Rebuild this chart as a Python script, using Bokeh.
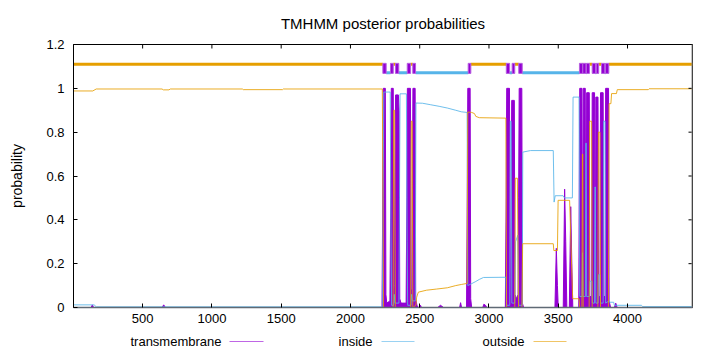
from bokeh.plotting import figure
from bokeh.models import Range1d, FixedTicker, Span
from bokeh.layouts import column
from bokeh.embed import file_html
from bokeh.resources import INLINE
from bokeh.core.properties import value

FONT = "Liberation Sans"
PURPLE = "#9400D3"
BLUE = "#56B4E9"
ORANGE = "#E69F00"

# ---------------- data ----------------
seq_len = 4469
x_ticks = [500, 1000, 1500, 2000, 2500, 3000, 3500, 4000]
y_ticks = [0, 0.2, 0.4, 0.6, 0.8, 1.0, 1.2]
y_tick_labels = ["0", "0.2", "0.4", "0.6", "0.8", "1", "1.2"]
series_names = ["transmembrane", "inside", "outside"]

# predicted transmembrane helices (top band)
tm_start = [2234, 2289, 2325, 2410, 2450, 2850, 3125, 3167, 3215, 3653, 3677, 3703, 3745, 3774, 3812, 3841]
tm_end = [2258, 2309, 2349, 2434, 2470, 2869, 3149, 3186, 3240, 3675, 3700, 3725, 3769, 3792, 3836, 3865]

# posterior probability profiles (residue, probability)
tm_profile = [
    (1, 0), (128, 0), (137, 0.012), (146, 0),
    (640, 0), (652, 0.012), (664, 0),
    (2228, 0), (2233, 0.5), (2237, 1.0), (2252, 1.0), (2256, 0.06), (2262, 0.02), (2285, 0.03),
    (2291, 0.5), (2295, 1.0), (2309, 1.0), (2313, 0.08), (2317, 0.1), (2321, 0.6), (2326, 0.97),
    (2346, 0.97), (2351, 0.9), (2356, 0.04), (2365, 0.02), (2402, 0.02), (2407, 0.5), (2411, 1.0),
    (2433, 1.0), (2438, 0.08), (2444, 0.08), (2447, 0.5), (2451, 1.0), (2467, 1.0), (2471, 0.04),
    (2480, 0.01), (2490, 0),
    (2500, 0), (2506, 0.01), (2512, 0),
    (2630, 0), (2650, 0.01), (2672, 0),
    (2788, 0), (2795, 0.022), (2802, 0),
    (2838, 0), (2843, 0.5), (2847, 1.0), (2864, 1.0), (2868, 0.04), (2875, 0),
    (2955, 0), (2963, 0.015), (2975, 0.01), (2985, 0),
    (3118, 0), (3124, 0.5), (3128, 1.0), (3148, 1.0), (3152, 0.06), (3156, 0.06), (3160, 0.5),
    (3164, 0.945), (3183, 0.945), (3187, 0.06), (3200, 0.04), (3210, 0.06), (3214, 0.5),
    (3218, 1.0), (3237, 1.0), (3241, 0.02), (3250, 0),
    (3476, 0), (3486, 0.27), (3494, 0.1), (3500, 0),
    (3536, 0), (3546, 0.54), (3554, 0.3), (3562, 0),
    (3580, 0), (3590, 0.46), (3598, 0.2), (3605, 0),
    (3648, 0), (3652, 0.6), (3655, 1.0), (3671, 1.0), (3674, 0.05), (3677, 0.05), (3680, 1.0),
    (3695, 1.0), (3698, 0.05), (3702, 0.05), (3705, 0.98), (3724, 0.98), (3728, 0.05),
    (3741, 0.05), (3745, 0.98), (3762, 0.98), (3765, 0.05), (3768, 0.05), (3771, 0.96),
    (3787, 0.96), (3791, 0.05), (3801, 0.05), (3805, 0.98), (3824, 0.98), (3828, 0.05),
    (3838, 0.05), (3842, 1.0), (3863, 1.0), (3867, 0.03), (3878, 0),
    (3905, 0), (3915, 0.02), (3925, 0), (4469, 0),
]

inside_profile = [
    (1, 0.012), (150, 0.012), (165, 0.003), (2230, 0.003), (2236, 0.5), (2241, 0.983),
    (2287, 0.983), (2292, 0.4), (2297, 0.01), (2312, 0.01), (2316, 0.06), (2321, 0.02),
    (2350, 0.02), (2354, 0.5), (2358, 0.975), (2404, 0.975), (2409, 0.3), (2413, 0.01),
    (2437, 0.01), (2441, 0.06), (2447, 0.03), (2468, 0.03), (2473, 0.933), (2520, 0.932),
    (2580, 0.925), (2640, 0.918), (2700, 0.91), (2760, 0.9), (2800, 0.893), (2842, 0.89),
    (2847, 0.1), (2872, 0.108), (2900, 0.117), (2930, 0.128), (2960, 0.137), (3122, 0.138),
    (3127, 0.01), (3150, 0.01), (3154, 0.85), (3160, 0.85), (3165, 0.02), (3186, 0.02),
    (3192, 0.3), (3208, 0.33), (3215, 0.01), (3240, 0.01), (3244, 0.709), (3300, 0.716),
    (3464, 0.716), (3470, 0.481), (3478, 0.51), (3535, 0.51), (3545, 0.5), (3602, 0.5),
    (3607, 0.96), (3650, 0.96), (3655, 0.05), (3672, 0.05), (3675, 0.25), (3678, 0.05),
    (3696, 0.05), (3699, 0.75), (3702, 0.75), (3705, 0.05), (3724, 0.05), (3728, 0.12),
    (3742, 0.12), (3746, 0.02), (3762, 0.02), (3765, 0.55), (3768, 0.55), (3771, 0.02),
    (3787, 0.02), (3791, 0.15), (3801, 0.15), (3805, 0.02), (3824, 0.02), (3828, 0.85),
    (3838, 0.85), (3842, 0.02), (3866, 0.03), (3870, 0.024), (3900, 0.024), (3905, 0.01),
    (4100, 0.01), (4110, 0.004), (4469, 0.004),
]

outside_profile = [
    (1, 0.988), (140, 0.988), (165, 0.997), (640, 0.997), (650, 0.993), (690, 0.993),
    (700, 0.997), (1220, 0.997), (1226, 0.994), (1510, 0.994), (1516, 0.997), (2230, 0.997),
    (2235, 0.5), (2239, 0.0), (2308, 0.0), (2312, 0.9), (2319, 0.9), (2324, 0.0), (2435, 0.0),
    (2439, 0.85), (2446, 0.85), (2450, 0.0), (2472, 0.01), (2478, 0.047), (2490, 0.07),
    (2550, 0.079), (2620, 0.084), (2700, 0.09), (2760, 0.1), (2800, 0.105), (2842, 0.11),
    (2847, 0.892), (2875, 0.89), (2895, 0.885), (2905, 0.872), (2930, 0.866), (3122, 0.864),
    (3127, 0.0), (3186, 0.0), (3190, 0.59), (3205, 0.59), (3213, 0.0), (3238, 0.0),
    (3243, 0.291), (3464, 0.291), (3468, 0.26), (3494, 0.26), (3499, 0.489), (3582, 0.489),
    (3604, 0.04), (3650, 0.04), (3655, 0.0), (3671, 0.0), (3674, 0.7), (3677, 0.7),
    (3680, 0.0), (3723, 0.0), (3727, 0.85), (3741, 0.85), (3745, 0.0), (3786, 0.0),
    (3790, 0.8), (3801, 0.8), (3805, 0.0), (3862, 0.0), (3867, 0.93), (3880, 0.93),
    (3885, 0.976), (3920, 0.976), (3926, 0.994), (4150, 0.994), (4156, 0.998), (4469, 0.998),
]

tm_x, tm_y = [list(t) for t in zip(*tm_profile)]
in_x, in_y = [list(t) for t in zip(*inside_profile)]
out_x, out_y = [list(t) for t in zip(*outside_profile)]

# ---------------- styling constants ----------------
OUT_LEVEL = 1.110
IN_LEVEL = 1.071
BOX_BOTTOM = 1.068
BOX_TOP = 1.114
TICK_PX = 4
FRAME_W = 619
FRAME_H = 263
Y_MAX = 1.2

# topology band regions between helices (alternating outside / inside)
bounds = [1] + [v for pair in zip(tm_start, tm_end) for v in pair] + [seq_len]
out_seg = ([], [])
in_seg = ([], [])
for k in range(len(tm_start) + 1):
    a, b = bounds[2 * k], bounds[2 * k + 1]
    target = out_seg if k % 2 == 0 else in_seg
    target[0].append(a)
    target[1].append(b)

p = figure(width=720, height=332, x_range=Range1d(1, seq_len), y_range=Range1d(0, Y_MAX),
           output_backend="svg", toolbar_location=None,
           min_border_left=73, min_border_right=28, min_border_top=44, min_border_bottom=25,
           background_fill_color="white", border_fill_color="white")
p.outline_line_color = "black"
p.outline_line_width = 1
p.grid.visible = False

p.title.text = "TMHMM posterior probabilities"
p.title.align = "center"
p.title.text_font = FONT
p.title.text_font_size = "15px"
p.title.text_font_style = "normal"
p.title.text_color = "black"
p.title.standoff = 25

# transmembrane as impulses (filled)
p.varea(x=tm_x, y1=[0] * len(tm_x), y2=tm_y, fill_color=PURPLE)
p.line(tm_x, tm_y, line_color=PURPLE, line_width=1)

# topology band
p.segment(x0=out_seg[0], y0=[OUT_LEVEL] * len(out_seg[0]), x1=out_seg[1],
          y1=[OUT_LEVEL] * len(out_seg[0]), line_color=ORANGE, line_width=3)
p.segment(x0=in_seg[0], y0=[IN_LEVEL] * len(in_seg[0]), x1=in_seg[1],
          y1=[IN_LEVEL] * len(in_seg[0]), line_color=BLUE, line_width=3)
p.quad(left=tm_start, right=tm_end, bottom=[BOX_BOTTOM] * len(tm_start),
       top=[BOX_TOP] * len(tm_start), fill_color=PURPLE, line_color="#b65ee0", line_width=1)

# inside / outside
p.line(in_x, in_y, line_color=BLUE, line_width=1, line_alpha=0.85)
p.line(out_x, out_y, line_color=ORANGE, line_width=1, line_alpha=0.85)

# mirrored ticks (inside the frame) on top and right borders
tick_dy = TICK_PX * Y_MAX / FRAME_H
tick_dx = TICK_PX * (seq_len - 1) / FRAME_W
p.segment(x0=x_ticks, y0=[Y_MAX] * len(x_ticks), x1=x_ticks,
          y1=[Y_MAX - tick_dy] * len(x_ticks), line_color="black", line_width=1)
p.segment(x0=[seq_len] * len(y_ticks), y0=y_ticks, x1=[seq_len - tick_dx] * len(y_ticks),
          y1=y_ticks, line_color="black", line_width=1)
p.add_layout(Span(location=seq_len, dimension="height", line_color="#8a8a8a", line_width=2))

# axes
for ax in (p.xaxis[0], p.yaxis[0]):
    ax.major_tick_in = TICK_PX
    ax.major_tick_out = 0
    ax.minor_tick_line_color = None
    ax.axis_line_color = "black"
    ax.major_tick_line_color = "black"
    ax.major_label_text_font = FONT
    ax.major_label_text_font_size = "13px"
    ax.major_label_text_color = "black"

p.xaxis.ticker = FixedTicker(ticks=x_ticks)
p.xaxis.major_label_standoff = 6
p.xaxis.axis_line_color = "#5f6a75"
p.xaxis.axis_line_width = 1.5

p.yaxis.ticker = FixedTicker(ticks=y_ticks)
p.yaxis.major_label_overrides = {t: l for t, l in zip(y_ticks, y_tick_labels)}
p.yaxis.major_label_standoff = 9
p.yaxis.axis_label = "probability"
p.yaxis.axis_label_text_font = FONT
p.yaxis.axis_label_text_font_size = "14px"
p.yaxis.axis_label_text_font_style = "normal"
p.yaxis.axis_label_text_color = "black"
p.yaxis.axis_label_standoff = 18

# legend strip (gnuplot-style key: text then sample); its frame is aligned with the plot frame
lg = figure(width=720, height=20, x_range=Range1d(73, 692), y_range=Range1d(0, 20),
            output_backend="svg", toolbar_location=None, min_border=0,
            min_border_left=73, min_border_right=28,
            x_axis_type=None, y_axis_type=None)
lg.outline_line_color = None
lg.grid.visible = False
key_text_right = [221, 372, 524]
key_x0 = [229, 381, 533]
key_x1 = [263, 414, 566]
lg.text(x=key_text_right, y=[11] * 3, text=series_names, text_align="right",
        text_baseline="middle", text_font=value(FONT), text_font_size="13px", text_color="black")
lg.segment(x0=key_x0, y0=[11] * 3, x1=key_x1, y1=[11] * 3,
           line_color=[PURPLE, BLUE, ORANGE], line_width=1, line_alpha=0.6)

layout = column(p, lg, spacing=0)
open("out.html", "w").write(file_html(layout, INLINE))
